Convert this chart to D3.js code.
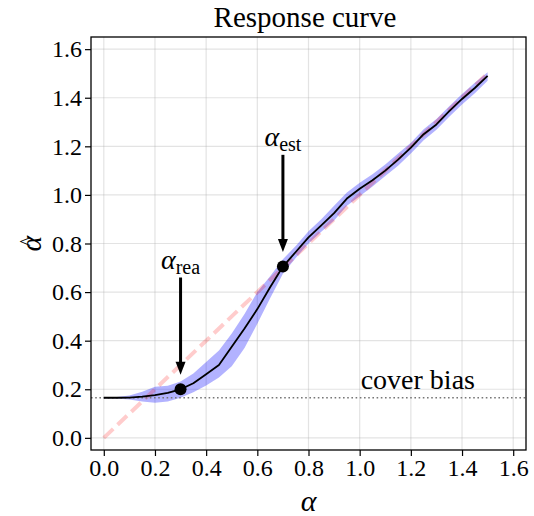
<!DOCTYPE html>
<html>
<head>
<meta charset="utf-8">
<script src="https://cdn.jsdelivr.net/npm/d3@7"></script>
<style>
  html, body { margin: 0; padding: 0; background: #fff; }
  svg { display: block; }
  svg text { font-family: "Liberation Serif", "DejaVu Serif", serif !important; fill: #000; }
</style>
</head>
<body>
<svg id="chart" width="534" height="516"></svg>
<script>
// ---- data ----
const alphaTrue = [0.00,0.05,0.10,0.15,0.20,0.25,0.30,0.35,0.40,0.45,0.50,0.55,0.60,0.65,0.70,0.75,0.80,0.85,0.90,0.95,1.00,1.05,1.10,1.15,1.20,1.25,1.30,1.35,1.40,1.45,1.50];
const alphaEst  = [0.165,0.165,0.166,0.170,0.176,0.185,0.200,0.225,0.262,0.300,0.375,0.450,0.530,0.620,0.705,0.765,0.825,0.875,0.925,0.985,1.025,1.060,1.100,1.145,1.195,1.250,1.290,1.345,1.395,1.440,1.490];
const bandLow   = [0.163,0.162,0.158,0.150,0.145,0.150,0.165,0.188,0.215,0.248,0.295,0.370,0.470,0.575,0.675,0.740,0.800,0.848,0.895,0.955,0.995,1.035,1.078,1.120,1.170,1.225,1.268,1.322,1.372,1.418,1.470];
const bandHigh  = [0.167,0.168,0.174,0.190,0.210,0.214,0.232,0.265,0.312,0.360,0.430,0.510,0.600,0.665,0.735,0.790,0.850,0.900,0.955,1.010,1.050,1.085,1.125,1.170,1.215,1.270,1.312,1.365,1.415,1.462,1.505];
const identity  = [0, 1.5];
const coverBias = 0.165;
const markers   = [{name: "rea", x: 0.3, y: 0.2}, {name: "est", x: 0.7, y: 0.705}];
const xTicks = [0.0,0.2,0.4,0.6,0.8,1.0,1.2,1.4,1.6];
const yTicks = [0.0,0.2,0.4,0.6,0.8,1.0,1.2,1.4,1.6];
const titleText = "Response curve";
const coverLabel = "cover bias";

// ---- layout ----
const L = 91, R = 526, T = 37, B = 450;
const svg = d3.select("#chart");
const x = d3.scaleLinear().domain([-0.05, 1.65]).range([L, R]);
const y = d3.scaleLinear().domain([-0.05, 1.65]).range([B, T]);
const SERIF = '"Liberation Serif", "DejaVu Serif", serif';

const clipId = "plotclip";
svg.append("clipPath").attr("id", clipId).append("rect")
  .attr("x", L).attr("y", T).attr("width", R - L).attr("height", B - T);

// grid
const grid = svg.append("g").attr("stroke", "#b0b0b0").attr("stroke-opacity", 0.35).attr("stroke-width", 1.2);
grid.selectAll("line.vx").data(xTicks).join("line")
  .attr("x1", d => x(d)).attr("x2", d => x(d)).attr("y1", T).attr("y2", B);
grid.selectAll("line.hy").data(yTicks).join("line")
  .attr("x1", L).attr("x2", R).attr("y1", d => y(d)).attr("y2", d => y(d));

const plot = svg.append("g").attr("clip-path", `url(#${clipId})`);
const pts = alphaTrue.map((a, i) => ({a, e: alphaEst[i], lo: bandLow[i], hi: bandHigh[i]}));

// band
plot.append("path").datum(pts)
  .attr("fill", "blue").attr("fill-opacity", 0.3)
  .attr("d", d3.area().x(d => x(d.a)).y0(d => y(d.lo)).y1(d => y(d.hi)));

// identity dashed
plot.append("line")
  .attr("x1", x(identity[0])).attr("y1", y(identity[0]))
  .attr("x2", x(identity[1])).attr("y2", y(identity[1]))
  .attr("stroke", "red").attr("stroke-opacity", 0.2)
  .attr("stroke-width", 4).attr("stroke-dasharray", "13,6");

// cover bias dotted
plot.append("line")
  .attr("x1", L).attr("x2", R).attr("y1", y(coverBias)).attr("y2", y(coverBias))
  .attr("stroke", "#777").attr("stroke-width", 1.6).attr("stroke-dasharray", "1.6,2.6");

// estimate line
plot.append("path").datum(pts)
  .attr("fill", "none").attr("stroke", "#000").attr("stroke-width", 1.8)
  .attr("stroke-linejoin", "round")
  .attr("d", d3.line().x(d => x(d.a)).y(d => y(d.e)));

// markers
plot.selectAll("circle.m").data(markers).join("circle")
  .attr("cx", d => x(d.x)).attr("cy", d => y(d.y)).attr("r", 6).attr("fill", "#000");

// arrows + labels
markers.forEach(m => {
  const xp = x(m.x);
  const tipY = y(m.y + 0.06);
  const topY = y(m.y + 0.46);
  const headLen = 13, headW = 5;
  svg.append("line").attr("x1", xp).attr("x2", xp).attr("y1", topY).attr("y2", tipY - headLen + 1)
    .attr("stroke", "#000").attr("stroke-width", 3);
  svg.append("path")
    .attr("d", `M${xp - headW},${tipY - headLen} L${xp + headW},${tipY - headLen} L${xp},${tipY} Z`)
    .attr("fill", "#000");
  const t = svg.append("text").attr("x", xp).attr("y", y(m.y + 0.495))
    .attr("text-anchor", "middle");
  t.append("tspan").attr("font-style", "italic").attr("font-size", 28).text("α");
  t.append("tspan").attr("font-size", 20).attr("dy", 5).text(m.name);
});

// cover bias label
svg.append("text").attr("x", x(1.0) + 1).attr("y", y(0.2))
  .attr("font-size", 28).text(coverLabel);

// frame
svg.append("rect").attr("x", L).attr("y", T).attr("width", R - L).attr("height", B - T)
  .attr("fill", "none").attr("stroke", "#000").attr("stroke-width", 1.3);

// axes
const fmt = d3.format(".1f");
const xAxis = svg.append("g").attr("transform", `translate(0,${B})`)
  .call(d3.axisBottom(x).tickValues(xTicks).tickFormat(fmt).tickSize(6).tickPadding(3).tickSizeOuter(0));
const yAxis = svg.append("g").attr("transform", `translate(${L},0)`)
  .call(d3.axisLeft(y).tickValues(yTicks).tickFormat(fmt).tickSize(6).tickPadding(3).tickSizeOuter(0));
[xAxis, yAxis].forEach(a => {
  a.attr("font-family", null).attr("font-size", null);
  a.select(".domain").remove();
  a.selectAll(".tick line").attr("stroke", "#000").attr("stroke-width", 1.2);
  a.selectAll(".tick text").style("font-family", SERIF).style("font-size", "24px").attr("fill", "#000");
});

// title
svg.append("text").attr("x", 305).attr("y", 27).attr("text-anchor", "middle")
  .attr("font-size", 29).text(titleText);

// x label
svg.append("text").attr("x", (L + R) / 2).attr("y", 511).attr("text-anchor", "middle")
  .attr("font-size", 30).attr("font-style", "italic").text("α");

// y label (alpha hat), rotated
const yl = svg.append("g").attr("transform", `translate(41,${(T + B) / 2}) rotate(-90)`);
yl.append("text").attr("text-anchor", "middle").attr("font-size", 30).attr("font-style", "italic").text("α");
yl.append("text").attr("text-anchor", "middle").attr("x", 2).attr("y", -7).attr("font-size", 20).text("^");
</script>
</body>
</html>
